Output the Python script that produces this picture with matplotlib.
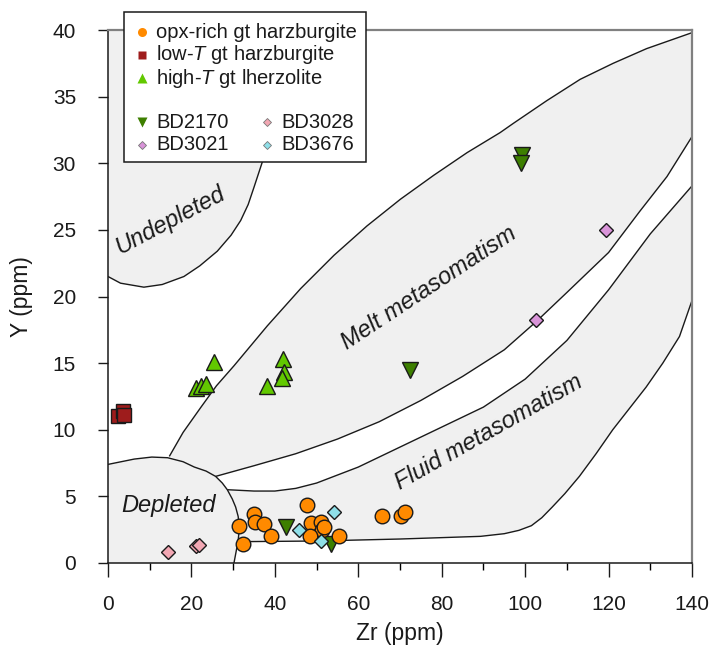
import matplotlib
matplotlib.use("Agg")
import matplotlib.pyplot as plt
from matplotlib.patches import Polygon, Rectangle

plt.rcParams['font.family'] = ['Liberation Sans', 'DejaVu Sans']
plt.rcParams['mathtext.fontset'] = 'custom'
plt.rcParams['mathtext.rm'] = 'Liberation Sans'
plt.rcParams['mathtext.it'] = 'Liberation Sans:italic'

# ---- sample data: Zr and Y (ppm) in garnet ----
opx_zr = [31.4, 34.9, 35.2, 37.4, 39.0, 32.4, 47.6, 48.7, 51.0, 51.4, 48.4, 55.3, 51.7, 65.7, 70.3, 71.1]
opx_y = [2.8, 3.7, 3.1, 2.9, 2.0, 1.4, 4.35, 3.0, 3.1, 2.5, 2.0, 2.0, 2.7, 3.5, 3.5, 3.8]

lowT_zr = [2.5, 3.6, 3.9]
lowT_y = [11.0, 11.4, 11.1]

highT_zr = [25.4, 21.0, 22.2, 23.6, 42.0, 42.2, 41.8, 38.0]
highT_y = [15.1, 13.1, 13.3, 13.4, 15.3, 14.3, 13.9, 13.3]

bd2170_zr = [99.2, 99.0, 72.3, 42.6, 53.4]
bd2170_y = [30.6, 30.0, 14.5, 2.7, 1.4]

bd3028_zr = [14.3, 21.1, 21.9]
bd3028_y = [0.8, 1.3, 1.35]

bd3021_zr = [119.4, 102.6]
bd3021_y = [25.0, 18.2]

bd3676_zr = [45.8, 54.2, 51.0]
bd3676_y = [2.5, 3.8, 1.65]

# ---- field boundaries (Zr, Y) ----
depleted_curve = [(0, 7.4), (6.3, 7.8), (10.5, 7.95), (14.3, 7.9), (18, 7.6), (20.7, 7.2),
                  (23.5, 6.9), (25.8, 6.5), (27.4, 6.0), (28.6, 5.5), (29.8, 4.8), (30.6, 4.2),
                  (31.2, 3.5), (31.4, 3.0), (31.4, 2.3), (31.2, 1.7), (30.8, 1.0), (30.5, 0.5),
                  (30.2, 0.0)]
undepleted_curve = [(0, 21.5), (3, 21.0), (8.6, 20.7), (13, 20.9), (18.2, 21.5), (22, 22.3),
                    (26.2, 23.4), (29.5, 24.6), (31.8, 25.7), (33.6, 26.9), (35, 28.2),
                    (37, 30.1), (38.5, 32.5), (40, 36), (41, 40)]
melt_upper = [(14.7, 8.0), (18, 9.8), (22.3, 11.7), (26, 13.3), (30.2, 14.8), (38.2, 17.8),
              (46.2, 20.6), (54.2, 23.1), (62.1, 25.3), (70.1, 27.3), (78.1, 29.1),
              (86.1, 30.8), (94, 32.3), (97.2, 33.0), (105.2, 34.7), (113.2, 36.3),
              (121.1, 37.5), (129.1, 38.6), (140, 39.8)]
melt_lower = [(25.8, 6.5), (35, 7.3), (45, 8.2), (55, 9.3), (65, 10.6), (75, 12.2), (85, 14.0),
              (95, 16.0), (102.6, 18.1), (110, 20.3), (120, 23.3), (127.5, 26.4), (134, 29.0),
              (140, 32.0)]
fluid_upper = [(28.6, 5.5), (35, 5.4), (40, 5.4), (45, 5.6), (50, 6.0), (60, 7.2), (70, 8.7),
               (80, 10.2), (90, 11.7), (100, 13.8), (110, 16.7), (120, 20.5), (130, 24.7),
               (140, 28.3)]
fluid_lower = [(31.2, 1.6), (50, 1.65), (70, 1.8), (89.3, 2.0), (95, 2.2), (98.5, 2.45),
               (101.5, 2.8), (104, 3.4), (106.5, 4.2), (109.5, 5.2), (113, 6.5), (117, 8.2),
               (121, 10.0), (125, 11.6), (129, 13.2), (133, 15.0), (137, 17.0), (140, 19.7)]

FIELD = '#f0f0f0'

fig = plt.figure(figsize=(7.13, 6.5), dpi=100)
ax = fig.add_axes([108 / 713, 1 - 563 / 650, 584 / 713, 533 / 650])
ax.set_xlim(0, 140)
ax.set_ylim(0, 40)

# filled fields
depleted_poly = [(0, 0)] + depleted_curve
undepleted_poly = [(0, 40)] + undepleted_curve
melt_poly = melt_upper + melt_lower[::-1] + [(23.5, 6.9), (20.7, 7.2), (18, 7.6)]
fluid_poly = fluid_upper + fluid_lower[::-1] + [(31.4, 2.3), (31.4, 3.0), (31.2, 3.5), (30.6, 4.2), (29.8, 4.8)]
for poly in (depleted_poly, undepleted_poly, melt_poly, fluid_poly):
    ax.add_patch(Polygon(poly, closed=True, facecolor=FIELD, edgecolor='none', zorder=1))

for curve in (depleted_curve, undepleted_curve, melt_upper, melt_lower, fluid_upper, fluid_lower):
    xs, ys = zip(*curve)
    ax.plot(xs, ys, color='#1a1a1a', lw=1.0, zorder=2, solid_capstyle='butt')

# field names
lab = dict(fontsize=17, style='italic', color='#1a1a1a', ha='center', va='center',
           rotation_mode='anchor', zorder=3)
ax.text(14.9, 25.7, 'Undepleted', rotation=28, **lab)
ax.text(14.6, 4.35, 'Depleted', rotation=0, **lab)
ax.text(77.0, 20.6, 'Melt metasomatism', rotation=33.5, **lab)
ax.text(91.4, 9.8, 'Fluid metasomatism', rotation=29.5, **lab)

# samples
ek = dict(markeredgecolor='#1a1a1a', markeredgewidth=1.0, linestyle='none', zorder=5)
ax.plot(bd2170_zr, bd2170_y, marker='v', markersize=11, color='#3d7f00', **ek)
ax.plot(lowT_zr, lowT_y, marker='s', markersize=9.5, color='#9e1c1c', **ek)
ax.plot(highT_zr, highT_y, marker='^', markersize=11, color='#62c800', **ek)
ax.plot(opx_zr, opx_y, marker='o', markersize=10.5, color='#ff8a00', **ek)
ax.plot(bd3028_zr, bd3028_y, marker='D', markersize=7.5, color='#f2a7b3', **ek)
ax.plot(bd3021_zr, bd3021_y, marker='D', markersize=7.5, color='#d994d9', **ek)
ax.plot(bd3676_zr, bd3676_y, marker='D', markersize=7.5, color='#8fdfe8', **ek)

# axes styling
ax.set_xticks(range(0, 141, 20))
ax.set_xticks(range(10, 141, 20), minor=True)
ax.set_yticks(range(0, 41, 5))
ax.tick_params(axis='x', which='major', direction='out', length=10, width=1.0, pad=13,
               labelsize=15, colors='#1a1a1a')
ax.tick_params(axis='x', which='minor', direction='out', length=5, width=1.0)
ax.tick_params(axis='y', which='major', direction='out', length=7, width=1.0, pad=16,
               labelsize=15, colors='#1a1a1a')
for s in ('left', 'bottom'):
    ax.spines[s].set_color('#1a1a1a')
    ax.spines[s].set_linewidth(1.1)
for s in ('top', 'right'):
    ax.spines[s].set_color('#808080')
    ax.spines[s].set_linewidth(1.6)
for sp in ax.spines.values():
    sp.set_zorder(6)
ax.set_xlabel('Zr (ppm)', fontsize=16.5, color='#1a1a1a', labelpad=6)
ax.set_ylabel('Y (ppm)', fontsize=16.5, color='#1a1a1a', labelpad=14)

# key
def fx(px):
    return (px - 108) / 584


def fy(py):
    return (563 - py) / 533


ax.add_patch(Rectangle((fx(124), fy(162)), fx(366) - fx(124), fy(12) - fy(162),
                       transform=ax.transAxes, facecolor='white', edgecolor='#1a1a1a',
                       lw=1.1, clip_on=False, zorder=8))

key_rows = [
    (142, 32, 'o', 6.5, '#ff8a00', 'opx-rich gt harzburgite'),
    (142, 55, 's', 6.0, '#9e1c1c', 'low-$T$ gt harzburgite'),
    (142, 78, '^', 7.0, '#62c800', 'high-$T$ gt lherzolite'),
    (142, 122, 'v', 7.0, '#3d7f00', 'BD2170'),
    (267, 122, 'D', 4.5, '#f2a7b3', 'BD3028'),
    (142, 145, 'D', 4.5, '#d994d9', 'BD3021'),
    (267, 145, 'D', 4.5, '#8fdfe8', 'BD3676'),
]
for px, py, mk, ms, col, txt in key_rows:
    ax.plot([fx(px)], [fy(py)], marker=mk, markersize=ms, color=col,
            markeredgecolor='#777777' if mk == 'D' else 'none', markeredgewidth=0.6,
            transform=ax.transAxes, clip_on=False, zorder=9, linestyle='none')
    ax.text(fx(px + 14), fy(py), txt, transform=ax.transAxes, fontsize=14.5,
            color='#1a1a1a', ha='left', va='center', zorder=9)

fig.savefig('out.png', dpi=100)
